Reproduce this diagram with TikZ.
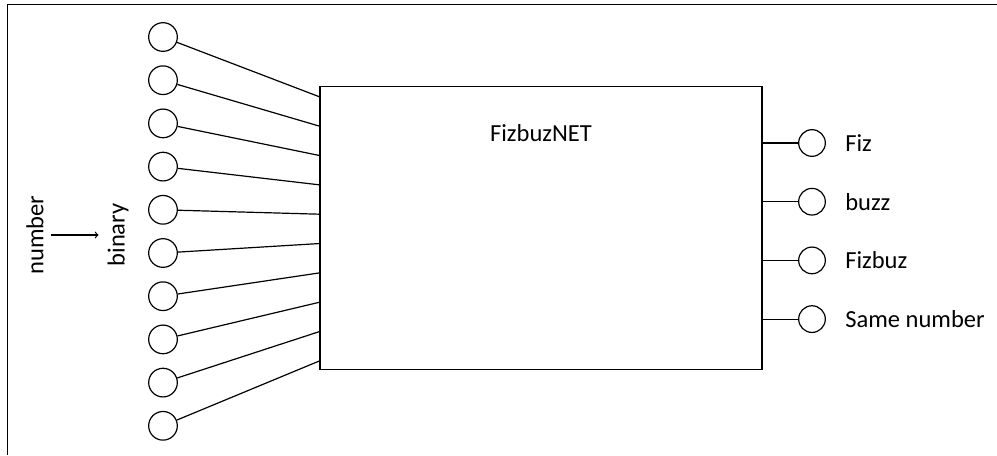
\documentclass[tikz,border=0pt]{standalone}
\usepackage{fontspec}
\setmainfont{Carlito}
\begin{document}
\begin{tikzpicture}[x=0.75pt,y=-0.75pt,
  every node/.style={font=\fontsize{18.4}{22}\selectfont},
  neuron/.style={draw,circle,minimum size=21.5pt,inner sep=0pt,line width=0.9pt},
  outneuron/.style={draw,circle,minimum size=20pt,inner sep=0pt,line width=0.9pt},
  wire/.style={line width=0.9pt},
  netbox/.style={draw,line width=1pt,minimum width=331.5pt,minimum height=212pt,inner sep=0pt},
  lbl/.style={anchor=west,inner sep=0pt}]
\useasboundingbox (0,0) rectangle (997,455);
\draw[line width=1pt] (997,4.5) -- (7.5,4.5) -- (7.5,455);
% box
\node[netbox] (box) at (541,228) {};
\node (title) at (541,133) {FizbuzNET};
% inputs
\foreach \k in {0,...,9}{
  \node[neuron] (i\k) at (163,{37+43.2*\k}) {};
  \coordinate (b\k) at (320,{97+29.3*\k});
  \draw[wire] (i\k) -- (b\k);
}
% outputs
\foreach \k/\t in {0/Fiz,1/buzz,2/Fizbuz,3/Same number}{
  \coordinate (r\k) at (762,{143+58.7*\k});
  \node[outneuron] (o\k) at (812,{143+58.7*\k}) {};
  \draw[wire] (r\k) -- (o\k);
  \node[lbl] (t\k) at (845,{143+58.7*\k}) {\t};
}
% number -> binary
\node[rotate=90,inner sep=0pt] (num) at (35,235) {number};
\node[rotate=90,inner sep=0pt] (bin) at (118,235) {binary};
\draw[wire,->] ([xshift=5.5pt]num.south) -- ([xshift=-6.5pt]bin.north);
\end{tikzpicture}
\end{document}
